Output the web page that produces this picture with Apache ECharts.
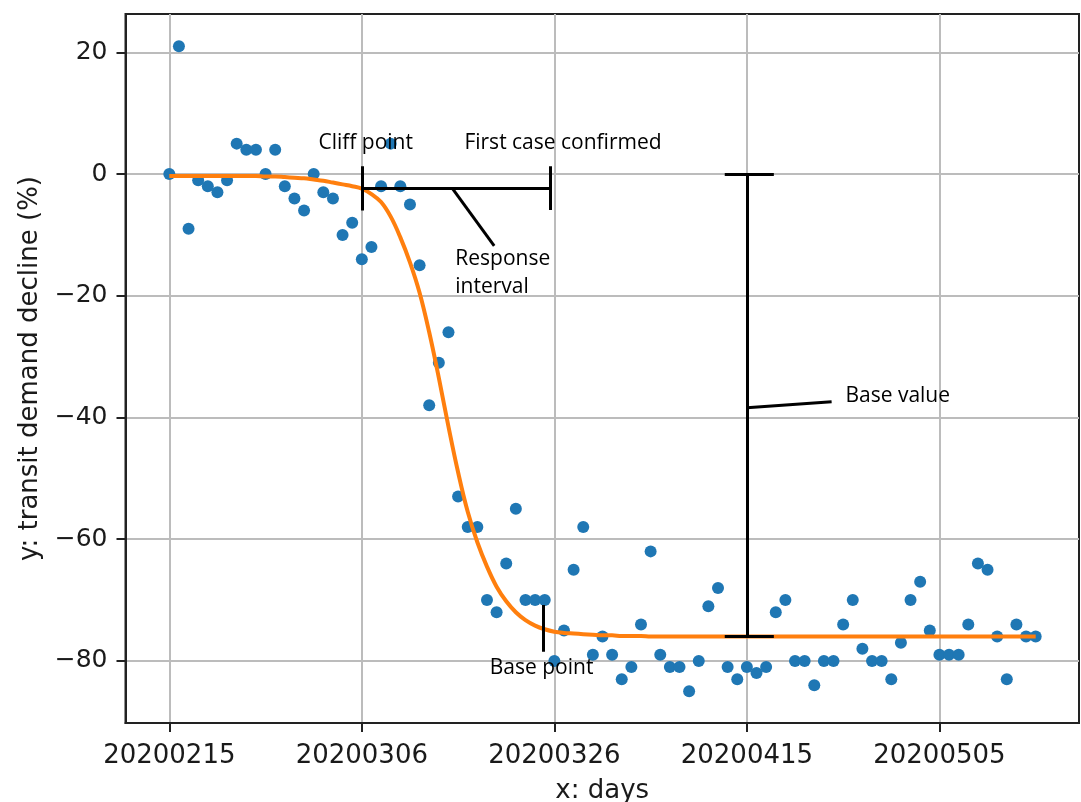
<!DOCTYPE html>
<html>
<head>
<meta charset="utf-8">
<script src="https://cdn.jsdelivr.net/npm/echarts@6/dist/echarts.min.js"></script>
<style>
  html, body { margin: 0; padding: 0; background: #fff; }
  #chart { width: 1081px; height: 802px; }
</style>
</head>
<body>
<div id="chart"></div>
<script>
// Daily transit demand decline (%), one value per day starting 20200215
const observed = [
  0, 21, -9, -1, -2, -3, -1, 5, 4, 4,
  0, 4, -2, -4, -6, 0, -3, -4, -10, -8,
  -14, -12, -2, 5, -2, -5, -15, -38, -31, -26,
  -53, -58, -58, -70, -72, -64, -55, -70, -70, -70,
  -80, -75, -65, -58, -79, -76, -79, -83, -81, -74,
  -62, -79, -81, -81, -85, -80, -71, -68, -81, -83,
  -81, -82, -81, -72, -70, -80, -80, -84, -80, -80,
  -74, -70, -78, -80, -80, -83, -77, -70, -67, -75,
  -79, -79, -79, -74, -64, -65, -76, -83, -74, -76,
  -76
];

// Fitted response curve, one value per day
const fitted = [
  -0.3, -0.3, -0.3, -0.3, -0.3, -0.3, -0.3, -0.3, -0.3, -0.3,
  -0.4, -0.4, -0.5, -0.6, -0.7, -0.9, -1.1, -1.4, -1.7, -2.0,
  -2.4, -3.3, -4.6, -7.0, -10.4, -14.5, -19.5, -26.0, -33.5, -41.5,
  -49.0, -55.5, -60.5, -64.5, -67.8, -70.2, -72.0, -73.3, -74.2, -74.8,
  -75.2, -75.4, -75.5, -75.6, -75.7, -75.8, -75.8, -75.9, -75.9, -75.9,
  -76, -76, -76, -76, -76, -76, -76, -76, -76, -76,
  -76, -76, -76, -76, -76, -76, -76, -76, -76, -76,
  -76, -76, -76, -76, -76, -76, -76, -76, -76, -76,
  -76, -76, -76, -76, -76, -76, -76, -76, -76, -76,
  -76
];

// Tick positions (days since 20200215) and their labels
const xTickDays = [0, 20, 40, 60, 80];
const xTickLabels = ['20200215', '20200306', '20200326', '20200415', '20200505'];
const yTickValues = [-80, -60, -40, -20, 0, 20];
const yTickLabels = ['\u221280', '\u221260', '\u221240', '\u221220', '0', '20'];

// Key quantities of the fitted response
const cliffDay = 20;
const cliffValue = -2.35;
const firstCaseDay = 39.6;
const baseDay = 38.8;
const baseValue = -76;
const baseBarDay = 60;

// Annotation segments in data coordinates [day, value]
const annotationSegments = [
  [[cliffDay, 1.3], [cliffDay, -6.0]],
  [[cliffDay, cliffValue], [firstCaseDay, cliffValue]],
  [[firstCaseDay, 1.3], [firstCaseDay, -5.9]],
  [[29.4, cliffValue], [33.75, -11.8]],
  [[baseBarDay, 0], [baseBarDay, baseValue]],
  [[57.7, 0], [62.8, 0]],
  [[57.7, baseValue], [62.8, baseValue]],
  [[baseBarDay, -38.4], [68.8, -37.4]],
  [[baseDay, -70.8], [baseDay, -78.5]]
];

// Annotation texts and their anchor points [day, value]
const noteTexts = ['Cliff point', 'First case confirmed', 'Response\ninterval', 'Base value', 'Base point'];
const noteAnchors = [[20.4, 5.1], [40.9, 5.1], [29.66, -16.3], [75.67, -36.5], [38.67, -81.1]];
const noteAlign = ['center', 'center', 'left', 'center', 'center'];

const chart = echarts.init(document.getElementById('chart'), null, { renderer: 'canvas' });

const axisFont = 'DejaVu Sans';
const noteFont = 'Open Sans';

const option = {
  animation: false,
  backgroundColor: '#ffffff',
  grid: {
    left: 125.5, right: 2, top: 14, bottom: 79,
    containLabel: false,
    outerBoundsMode: 'none',
    show: true,
    borderColor: '#222',
    borderWidth: 2,
    backgroundColor: 'transparent'
  },
  xAxis: {
    type: 'value',
    min: -4.55,
    max: 94.5,
    name: 'x: days',
    nameLocation: 'middle',
    nameGap: 55,
    nameTextStyle: { fontFamily: axisFont, fontSize: 26, color: '#1a1a1a' },
    axisLine: { show: true, onZero: false, lineStyle: { color: '#222', width: 2 } },
    axisTick: { show: true, length: 9, customValues: xTickDays, lineStyle: { color: '#222', width: 2 } },
    axisLabel: {
      customValues: xTickDays,
      margin: 20,
      fontFamily: axisFont,
      fontSize: 26,
      color: '#1a1a1a',
      formatter: v => {
        const i = xTickDays.indexOf(Math.round(v));
        return i >= 0 ? xTickLabels[i] : '';
      }
    },
    splitLine: { show: true, lineStyle: { color: '#bcbcbc', width: 2 } }
  },
  yAxis: {
    type: 'value',
    min: -90.2,
    max: 26.3,
    name: 'y: transit demand decline (%)',
    nameLocation: 'middle',
    nameGap: 82,
    nameTextStyle: { fontFamily: axisFont, fontSize: 26, color: '#1a1a1a' },
    axisLine: { show: true, onZero: false, lineStyle: { color: '#222', width: 2 } },
    axisTick: { show: true, length: 9, customValues: yTickValues, lineStyle: { color: '#222', width: 2 } },
    axisLabel: {
      customValues: yTickValues,
      margin: 18,
      fontFamily: axisFont,
      fontSize: 25,
      color: '#1a1a1a',
      formatter: v => {
        const i = yTickValues.indexOf(Math.round(v));
        return i >= 0 ? yTickLabels[i] : '';
      }
    },
    splitLine: { show: true, lineStyle: { color: '#bcbcbc', width: 2 } }
  },
  series: [
    {
      name: 'observed',
      type: 'scatter',
      silent: true,
      symbol: 'circle',
      symbolSize: 12,
      itemStyle: { color: '#1f77b4', opacity: 1 },
      data: observed.map((v, i) => [i, v]),
      z: 2
    },
    {
      name: 'fitted',
      type: 'line',
      silent: true,
      showSymbol: false,
      smooth: 0.4,
      lineStyle: { color: '#ff7f0e', width: 4 },
      data: fitted.map((v, i) => [i, v]),
      z: 3
    },
    {
      name: 'annotations',
      type: 'lines',
      coordinateSystem: 'cartesian2d',
      silent: true,
      lineStyle: { color: '#000', width: 3, opacity: 1, curveness: 0 },
      data: annotationSegments.map(seg => ({ coords: seg })),
      z: 4
    },
    {
      name: 'notes',
      type: 'scatter',
      silent: true,
      symbol: 'circle',
      symbolSize: 1,
      itemStyle: { color: 'rgba(0,0,0,0)' },
      data: noteTexts.map((t, i) => ({
        value: noteAnchors[i],
        label: {
          show: true,
          formatter: t,
          position: noteAlign[i] === 'left' ? 'right' : 'inside',
          distance: 0,
          align: noteAlign[i],
          verticalAlign: 'middle',
          fontFamily: noteFont,
          fontSize: 21,
          lineHeight: 28,
          color: '#000',
          opacity: 1,
          textBorderWidth: 0
        }
      })),
      z: 5
    }
  ]
};

chart.setOption(option);
</script>
</body>
</html>
